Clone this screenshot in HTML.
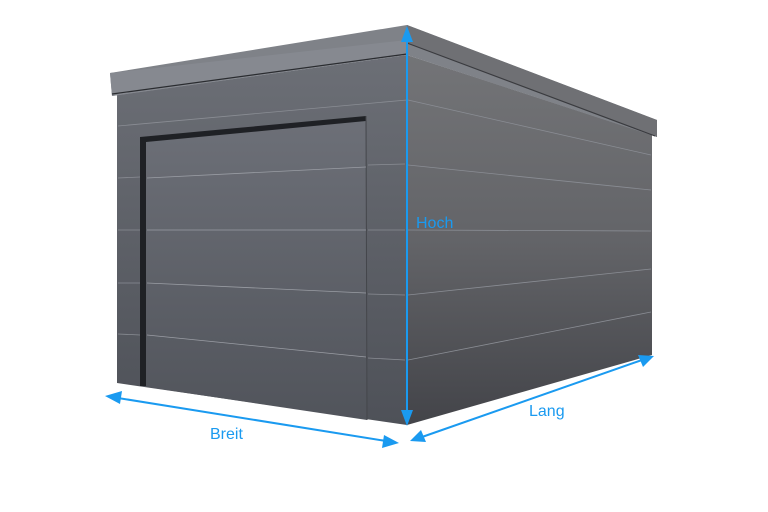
<!DOCTYPE html>
<html><head><meta charset="utf-8"><style>
html,body{margin:0;padding:0;background:#fff;width:768px;height:512px;overflow:hidden}
text{font-family:"Liberation Sans",sans-serif;font-size:16px;fill:#1a9af0}
</style></head><body>
<svg width="768" height="512" viewBox="0 0 768 512" xmlns="http://www.w3.org/2000/svg">
<defs>
<linearGradient id="fw" x1="0" y1="0" x2="0" y2="1"><stop offset="0" stop-color="#6c6f76"/><stop offset="1" stop-color="#4e5158"/></linearGradient>
<linearGradient id="sw" x1="0" y1="0" x2="0" y2="1"><stop offset="0" stop-color="#737477"/><stop offset="0.5" stop-color="#636468"/><stop offset="1" stop-color="#434449"/></linearGradient>
<linearGradient id="dr" x1="0" y1="0" x2="0" y2="1"><stop offset="0" stop-color="#6d7078"/><stop offset="1" stop-color="#51545b"/></linearGradient>
</defs>
<polygon points="407,55 652,135 652,355 407,425" fill="url(#sw)"/>
<polygon points="117,95 407,55 407,425 117,383" fill="url(#fw)"/>
<polygon points="110,73 407,25 657,120 657,137 407,55 112,96" fill="#7f8288"/>
<polygon points="110,73 407,40 407,55 112,96" fill="#868990"/>
<line x1="112" y1="94" x2="407" y2="54" stroke="#2a2c30" stroke-width="1.2"/>
<polygon points="407,25 657,120 657,137 407,43" fill="#6f7074"/>
<line x1="407" y1="43" x2="655" y2="136" stroke="#3a3b3f" stroke-width="1.2"/>
<g stroke="#8a8d94" stroke-width="0.8" fill="none">
<line x1="118" y1="126" x2="407" y2="100"/>
<line x1="118" y1="178" x2="140" y2="177"/><line x1="368" y1="165" x2="405" y2="164"/>
<line x1="118" y1="230" x2="140" y2="230"/><line x1="368" y1="230" x2="405" y2="230"/>
<line x1="118" y1="283" x2="140" y2="283"/><line x1="368" y1="294" x2="405" y2="295"/>
<line x1="118" y1="334" x2="140" y2="335"/><line x1="368" y1="358" x2="405" y2="360"/>
<line x1="408" y1="100" x2="651" y2="155"/>
<line x1="408" y1="165" x2="651" y2="190"/>
<line x1="408" y1="230" x2="651" y2="231"/>
<line x1="408" y1="295" x2="651" y2="269"/>
<line x1="408" y1="360" x2="651" y2="312"/>
</g>
<polygon points="140,137 366,116 367,420 140,386" fill="url(#dr)"/>
<polygon points="140,137 366,116 366,121 146,142 146,386 140,386" fill="#1f2125"/>
<line x1="366" y1="116" x2="367" y2="420" stroke="#44464b" stroke-width="1"/>
<g stroke="#9a9da4" stroke-width="0.8">
<line x1="147" y1="178" x2="366" y2="167"/>
<line x1="147" y1="230" x2="366" y2="230"/>
<line x1="147" y1="283" x2="366" y2="293"/>
<line x1="147" y1="335" x2="366" y2="357"/>
</g>
<g stroke="#1a9af0" stroke-width="2" fill="#1a9af0">
<line x1="407" y1="38" x2="407" y2="412"/>
<polygon points="407,26 401,42 413,42" stroke="none"/>
<polygon points="407,426 401,410 413,410" stroke="none"/>
<line x1="118" y1="398" x2="386" y2="441"/>
<polygon points="105,396 122,391 120,404" stroke="none"/>
<polygon points="399,443 382,448 384,435" stroke="none"/>
<line x1="422" y1="437" x2="642" y2="360"/>
<polygon points="410,441 421,430 426,442" stroke="none"/>
<polygon points="654,356 643,367 638,355" stroke="none"/>
</g>
<text x="416" y="228">Hoch</text>
<text x="210" y="439">Breit</text>
<text x="529" y="416">Lang</text>
</svg>
</body></html>
